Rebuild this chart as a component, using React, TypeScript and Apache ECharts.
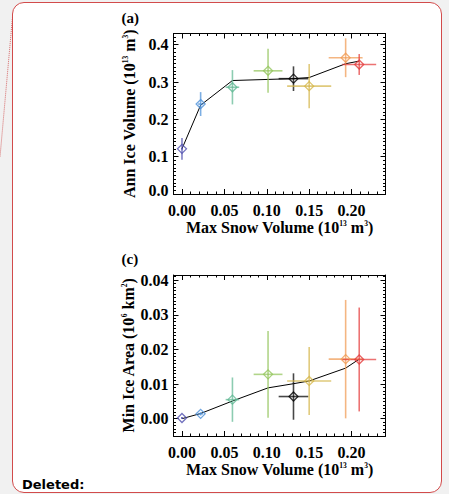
import React, { useEffect, useRef } from "react";
import * as echarts from "echarts";

// ---- data ----
const snowVol = [0.0, 0.022, 0.0595, 0.1015, 0.1315, 0.15, 0.193, 0.209];
const snowVolErr = [0.001, 0.003, 0.008, 0.017, 0.0175, 0.026, 0.02, 0.02];
const annIceVol = [0.121, 0.241, 0.286, 0.33, 0.309, 0.289, 0.365, 0.347];
const annIceVolErr = [0.029, 0.032, 0.046, 0.059, 0.033, 0.059, 0.052, 0.028];
const annIceVolFit = [0.121, 0.238, 0.304, 0.307, 0.309, 0.312, 0.349, 0.356];
const minIceArea = [0.0002, 0.0014, 0.0055, 0.0128, 0.0064, 0.0109, 0.0172, 0.0171];
const minIceAreaErr = [0.0003, 0.0005, 0.0064, 0.0125, 0.0067, 0.0098, 0.0171, 0.015];
const minIceAreaFit = [0.0, 0.0015, 0.0051, 0.0089, 0.0101, 0.0109, 0.0146, 0.0172];
const pointColors = ["#4f4fae", "#4a8fd8", "#5fb893", "#93c55c", "#000000", "#d4b64a", "#f09a52", "#e43c3c"];
const xTicks = [0, 0.05, 0.1, 0.15, 0.2];
const yTicksA = [0, 0.1, 0.2, 0.3, 0.4];
const yTicksC = [0, 0.01, 0.02, 0.03, 0.04];

const SERIF = "Liberation Serif";
const tickFont = { fontFamily: SERIF, fontWeight: "bold" as const, fontSize: 16, color: "#000" };
const nameFont = { fontFamily: SERIF, fontWeight: "bold" as const, fontSize: 16, color: "#000" };
const supRich = {
  s: { fontFamily: SERIF, fontWeight: "bold" as const, fontSize: 7.5, color: "#000", verticalAlign: "top" as const },
};

function xAxes(grid: number, name: string) {
  const common = { type: "value", gridIndex: grid, min: -0.01, max: 0.24, splitLine: { show: false } };
  const line = { show: true, onZero: false, lineStyle: { color: "#000", width: 1 } };
  return [
    {
      ...common,
      position: "bottom",
      axisLine: line,
      axisTick: { show: true, inside: true, length: 5, customValues: xTicks, lineStyle: { color: "#000" } },
      axisLabel: { ...tickFont, customValues: xTicks, margin: 8, formatter: (v: number) => v.toFixed(2) },
      name,
      nameLocation: "middle",
      nameGap: 25,
      nameTextStyle: { ...nameFont, rich: supRich },
    },
    {
      ...common,
      position: "bottom",
      interval: 0.01,
      axisLine: { show: false, onZero: false },
      axisTick: { show: true, inside: true, length: 2.5, lineStyle: { color: "#000" } },
      axisLabel: { show: false },
    },
    {
      ...common,
      position: "top",
      axisLine: line,
      axisTick: { show: true, inside: true, length: 5, customValues: xTicks, lineStyle: { color: "#000" } },
      axisLabel: { show: false },
    },
    {
      ...common,
      position: "top",
      interval: 0.01,
      axisLine: { show: false, onZero: false },
      axisTick: { show: true, inside: true, length: 2.5, lineStyle: { color: "#000" } },
      axisLabel: { show: false },
    },
  ];
}

function yAxes(grid: number, min: number, max: number, ticks: number[], minor: number, digits: number, name: string) {
  const common = { type: "value", gridIndex: grid, min, max, splitLine: { show: false } };
  const line = { show: true, onZero: false, lineStyle: { color: "#000", width: 1 } };
  return [
    {
      ...common,
      position: "left",
      axisLine: line,
      axisTick: { show: true, inside: true, length: 5, customValues: ticks, lineStyle: { color: "#000" } },
      axisLabel: {
        ...tickFont,
        customValues: ticks,
        margin: 5,
        formatter: (v: number) => (v === 0 && min === 0 ? "{z|" + v.toFixed(digits) + "}" : v.toFixed(digits)),
        rich: { z: { ...tickFont, padding: [0, 0, 7, 0] } },
      },
      name,
      nameLocation: "middle",
      nameRotate: 90,
      nameGap: 36,
      nameTextStyle: { ...nameFont, rich: supRich },
    },
    {
      ...common,
      position: "left",
      interval: minor,
      axisLine: { show: false, onZero: false },
      axisTick: { show: true, inside: true, length: 2.5, lineStyle: { color: "#000" } },
      axisLabel: { show: false },
    },
    {
      ...common,
      position: "right",
      axisLine: line,
      axisTick: { show: true, inside: true, length: 5, customValues: ticks, lineStyle: { color: "#000" } },
      axisLabel: { show: false },
    },
    {
      ...common,
      position: "right",
      interval: minor,
      axisLine: { show: false, onZero: false },
      axisTick: { show: true, inside: true, length: 2.5, lineStyle: { color: "#000" } },
      axisLabel: { show: false },
    },
  ];
}

function seriesFor(grid: number, yVals: number[], yErr: number[], fit: number[]) {
  const ax = grid * 4;
  return [
    {
      type: "line",
      xAxisIndex: ax,
      yAxisIndex: ax,
      data: snowVol.map((x, i) => [x, fit[i]]),
      symbol: "none",
      lineStyle: { color: "#000", width: 1 },
      z: 2,
    },
    {
      type: "custom",
      xAxisIndex: ax,
      yAxisIndex: ax,
      encode: { x: 0, y: 1 },
      data: snowVol.map((x, i) => [x, yVals[i], snowVolErr[i], yErr[i]]),
      renderItem: (params: any, api: any) => {
        const x = api.value(0);
        const y = api.value(1);
        const ex = api.value(2);
        const ey = api.value(3);
        const c = pointColors[params.dataIndex];
        const a = api.coord([x - ex, y]);
        const b = api.coord([x + ex, y]);
        const d = api.coord([x, y - ey]);
        const e = api.coord([x, y + ey]);
        const st = { stroke: c, lineWidth: 1.6, opacity: 0.72 };
        return {
          type: "group",
          children: [
            { type: "line", shape: { x1: a[0], y1: a[1], x2: b[0], y2: b[1] }, style: st },
            { type: "line", shape: { x1: d[0], y1: d[1], x2: e[0], y2: e[1] }, style: st },
          ],
        };
      },
      z: 3,
    },
    {
      type: "scatter",
      xAxisIndex: ax,
      yAxisIndex: ax,
      symbol: "diamond",
      symbolSize: 9,
      data: snowVol.map((x, i) => ({ value: [x, yVals[i]], itemStyle: { borderColor: pointColors[i] } })),
      itemStyle: { color: "rgba(0,0,0,0)", borderWidth: 1.3 },
      z: 4,
    },
  ];
}

export default function App() {
  const ref = useRef<HTMLDivElement>(null);
  useEffect(() => {
    if (!ref.current) return;
    const chart = echarts.init(ref.current, undefined, { renderer: "svg" });
    const xName = "Max Snow Volume (10{s|13} m{s|3})";
    chart.setOption({
      animation: false,
      backgroundColor: "transparent",
      grid: [
        { left: 173.5, top: 33.5, width: 212, height: 160.5 },
        { left: 173.5, top: 275, width: 212, height: 161 },
      ],
      xAxis: [...xAxes(0, xName), ...xAxes(1, xName)],
      yAxis: [
        ...yAxes(0, 0, 0.43, yTicksA, 0.01, 1, "Ann Ice Volume (10{s|13} m{s|3})"),
        ...yAxes(1, -0.005, 0.0415, yTicksC, 0.001, 2, "Min Ice Area (10{s|6} km{s|2})"),
      ],
      series: [
        ...seriesFor(0, annIceVol, annIceVolErr, annIceVolFit),
        ...seriesFor(1, minIceArea, minIceAreaErr, minIceAreaFit),
      ],
      graphic: [
        {
          type: "line",
          shape: { x1: 12.5, y1: 17, x2: 0, y2: 157 },
          style: { stroke: "#d04848", lineWidth: 1, lineDash: [1, 1], opacity: 0.8 },
        },
        {
          type: "text",
          x: 121.5,
          y: 18,
          style: { text: "(a)", font: "bold 15px 'Liberation Serif'", fill: "#000", verticalAlign: "middle" },
        },
        {
          type: "text",
          x: 121.5,
          y: 259,
          style: { text: "(c)", font: "bold 15px 'Liberation Serif'", fill: "#000", verticalAlign: "middle" },
        },
        {
          type: "text",
          x: 22,
          y: 484,
          style: { text: "Deleted:", font: "bold 13px 'DejaVu Sans'", fill: "#000", verticalAlign: "middle" },
        },
      ],
    });
    return () => chart.dispose();
  }, []);
  return (
    <div style={{ position: "fixed", left: 0, top: 0, width: 449, height: 494, background: "#f1f1f1" }}>
      <div
        style={{
          position: "absolute",
          left: 12,
          top: 2,
          width: 430,
          height: 491,
          boxSizing: "border-box",
          border: "1px solid #d24b4b",
          borderRadius: 12,
          background: "#fff",
        }}
      />
      <div ref={ref} style={{ position: "absolute", left: 0, top: 0, width: 449, height: 494 }} />
    </div>
  );
}
